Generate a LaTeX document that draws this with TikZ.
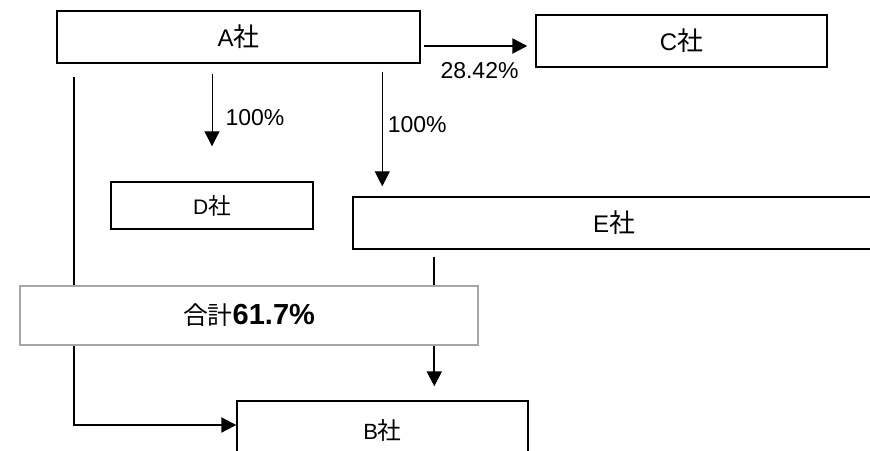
\documentclass[tikz,border=0pt]{standalone}
\usepackage{fontspec}
\setmainfont{Liberation Sans}
\newfontfamily\cjk[Scale=1.08]{Noto Sans CJK JP}
\usetikzlibrary{arrows.meta,positioning}
\newcommand{\kaisha}{{\cjk 社}}
\tikzset{
  firm/.style={draw,line width=1.4pt,fill=white,inner sep=0pt,minimum height=52pt,font=\fontsize{24}{28}\selectfont},
  pct/.style={inner sep=1pt,font=\fontsize{23}{27}\selectfont},
  tip/.style={-{Triangle[length=15pt,width=15pt]}},
}

\begin{document}
\begin{tikzpicture}[x=1pt,y=-1pt]
  \useasboundingbox (0,0) rectangle (870,450);
  \clip (0,0) rectangle (870,450);
  \node[firm,minimum width=363pt] (a) at (238.5,37) {A\kaisha};
  \node[firm,minimum width=291pt] (c) at (681.5,41) {C\kaisha};
  \node[firm,minimum width=202pt,minimum height=47pt,font=\fontsize{21}{25}\selectfont] (d) at (212,205.5) {D\kaisha};
  \node[firm,minimum width=522pt] (e) at (614,223) {E\kaisha};
  \node[firm,minimum width=291pt,minimum height=58pt,font=\fontsize{22}{26}\selectfont] (b) at (382.5,430) {B\kaisha};
  \coordinate (ta) at ([xshift=18pt,yshift=-13pt]a.south west);
  \draw[line width=2pt,tip] (ta) |- ([yshift=5pt]b.west);
  \node[firm,draw=black!35,minimum width=458pt,minimum height=59pt] (sum) at (249,315.5)
    {{\fontsize{23}{27}\selectfont\cjk 合計}{\fontsize{29}{33}\selectfont\bfseries 61.7\%}};
  \coordinate (aout) at ([yshift=-9pt]a.east);
  \coordinate (alow) at ([yshift=-10pt]a.south);
  \draw[line width=2.5pt,tip,shorten >=8pt] ([xshift=3pt]aout) -- (aout -| c.west)
    node[pct,below=14pt,midway] (pc) {28.42\%};
  \draw[line width=1pt,tip] (alow -| d.north) -- ([yshift=35pt]d.north)
    node[pct,right=12pt,pos=0.6] (pd) {100\%};
  \coordinate (ein) at ([xshift=30pt]e.north west);
  \draw[line width=1pt,tip] ([yshift=2pt]alow -| ein) -- ([yshift=10pt]ein)
    node[pct,right=4pt,pos=0.46] (pe) {100\%};
  \coordinate (eout) at ([xshift=82pt]e.south west);
  \draw[line width=2pt] ([yshift=-7pt]eout) -- (eout |- sum.north);
  \draw[line width=2pt,tip,shorten >=14pt] (eout |- sum.south) -- (eout |- b.north);
\end{tikzpicture}
\end{document}
